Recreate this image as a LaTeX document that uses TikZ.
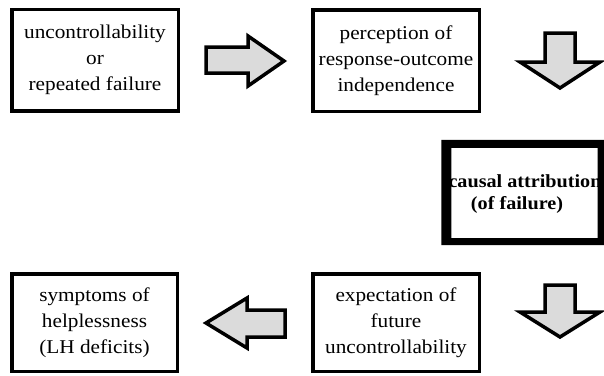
\documentclass[tikz,border=0pt]{standalone}
\usepackage{fontspec}
\setmainfont{Liberation Serif}[FakeStretch=1.09]
\begin{document}
\begin{tikzpicture}[x=1pt,y=-1pt,
  box/.style={draw, line width=3.5pt, minimum width=166.5pt, minimum height=101.5pt,
    inner sep=0pt, align=center, font=\fontsize{19.5}{26}\selectfont},
  blockarrow/.style={draw, line width=3.5pt, fill=black!14, line join=miter},
  boldtext/.style={align=center, inner sep=0pt, font=\bfseries\fontsize{18.5}{22}\selectfont}]
\fill[white] (0,0) rectangle (604,375);
\useasboundingbox (0,0) rectangle (604,375);
% boxes
\node[box] (cause) at (95,60) {uncontrollability\\or\\repeated failure};
\node[box] (percep) at (396,60.5) {perception of\\response-outcome\\independence};
\node[box, minimum height=97.5pt] (expect) at (396,322.5) {expectation of\\future\\uncontrollability};
\node[box, minimum height=97.5pt, minimum width=165.5pt] (sympt) at (94.5,322.5) {symptoms of\\helplessness\\(LH deficits)};
% causal attribution box (thick frame, text overflowing beneath it)
\node[minimum width=146pt, minimum height=90pt, inner sep=0pt] (causalbox) at (524.5,193) {};
\node[boldtext] (causal) at (525,194) {causal attribution\\\hspace*{-16pt}(of failure)};
\fill[even odd rule] ([shift={(-10,-8)}]causalbox.north west) rectangle ([shift={(14,7)}]causalbox.south east)
  (causalbox.north west) rectangle (causalbox.south east);
% block arrows
\draw[blockarrow] (206,47) -- (248,47) -- (248,36) -- (284,61) -- (248,86) -- (248,73) -- (206,73) -- cycle;
\draw[blockarrow] (545,33) -- (575,33) -- (575,62) -- (600,62) -- (560,88) -- (520,62) -- (545,62) -- cycle;
\draw[blockarrow] (545,285) -- (575,285) -- (575,312) -- (600,312) -- (560,337) -- (520,312) -- (545,312) -- cycle;
\draw[blockarrow] (285,310) -- (247,310) -- (247,298) -- (206,323) -- (247,348) -- (247,337) -- (285,337) -- cycle;
\end{tikzpicture}
\end{document}
